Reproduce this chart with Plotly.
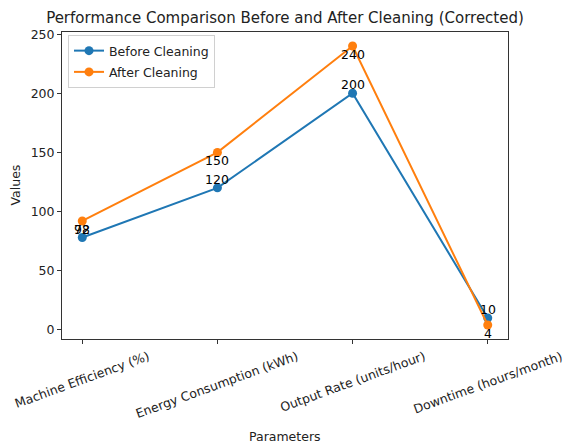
import plotly.graph_objects as go

categories = ["Machine Efficiency (%)", "Energy Consumption (kWh)", "Output Rate (units/hour)", "Downtime (hours/month)"]
before_cleaning = [78, 120, 200, 10]
after_cleaning = [92, 150, 240, 4]
y_ticks = [0, 50, 100, 150, 200, 250]

BLUE = "#1f77b4"
ORANGE = "#ff7f0e"
FONT = "DejaVu Sans"
TXT = "#222"

W, H = 564, 445
L, R, T, B = 62, 508, 32, 339
pw, ph = R - L, B - T

xs = list(range(len(categories)))

fig = go.Figure()
fig.add_trace(go.Scatter(x=xs, y=before_cleaning, mode="lines+markers", name="Before Cleaning",
                         legendgroup="a",
                         line=dict(color=BLUE, width=2), marker=dict(color=BLUE, size=9)))
fig.add_trace(go.Scatter(x=xs, y=after_cleaning, mode="lines+markers", name="After Cleaning",
                         legendgroup="b",
                         line=dict(color=ORANGE, width=2), marker=dict(color=ORANGE, size=9)))

annotations = []
for i, v in enumerate(before_cleaning):
    annotations.append(dict(x=i, y=v, xref="x", yref="y", text=str(v), showarrow=False,
                            xanchor="center", yanchor="bottom", borderpad=0,
                            font=dict(family=FONT, size=12.5, color="black")))
for i, v in enumerate(after_cleaning):
    annotations.append(dict(x=i, y=v, xref="x", yref="y", text=str(v), showarrow=False,
                            xanchor="center", yanchor="top", borderpad=0,
                            font=dict(family=FONT, size=12.5, color="black")))
for i, c in enumerate(categories):
    annotations.append(dict(x=i, y=-(347 - B) / ph, xref="x", yref="paper", text=c, showarrow=False,
                            xanchor="center", yanchor="top", textangle=-20, borderpad=0,
                            font=dict(family=FONT, size=12.5, color=TXT)))
annotations.append(dict(x=0.5, y=-(436 - B) / ph, xref="paper", yref="paper", text="Parameters",
                        showarrow=False, xanchor="center", yanchor="middle",
                        font=dict(family=FONT, size=12.5, color=TXT)))
annotations.append(dict(x=-(L - 15) / pw, y=0.5, xref="paper", yref="paper", text="Values",
                        showarrow=False, xanchor="center", yanchor="middle", textangle=-90,
                        font=dict(family=FONT, size=12.5, color=TXT)))

fig.update_layout(
    width=W, height=H,
    margin=dict(l=L, r=W - R, t=T, b=H - B, autoexpand=False),
    paper_bgcolor="white", plot_bgcolor="white",
    font=dict(family=FONT, size=12.5, color=TXT),
    title=dict(text="Performance Comparison Before and After Cleaning (Corrected)",
               x=(L + R) / 2 / W, xanchor="center", y=1 - 18 / H, yanchor="middle",
               font=dict(family=FONT, size=15, color=TXT)),
    xaxis=dict(range=[-0.15, 3.15], tickvals=xs, ticktext=["" for _ in categories],
               showticklabels=False, ticks="outside", ticklen=4, tickcolor="#333",
               showgrid=False, zeroline=False, showline=True, linecolor="#333", linewidth=1, mirror=True),
    yaxis=dict(range=[-7.8, 251.8], tickvals=y_ticks, ticks="outside", ticklen=4, tickcolor="#333",
               showgrid=False, zeroline=False, showline=True, linecolor="#333", linewidth=1, mirror=True,
               tickfont=dict(family=FONT, size=12.5, color=TXT)),
    legend=dict(x=(68 - L) / pw, y=1 - (35 - T) / ph, xanchor="left", yanchor="top",
                bgcolor="rgba(255,255,255,0.8)", bordercolor="#d0d0d0", borderwidth=1,
                font=dict(family=FONT, size=12.5, color=TXT), itemwidth=30,
                traceorder="grouped", tracegroupgap=2),
    annotations=annotations,
    showlegend=True,
)

fig.write_html("out.html", config={"displayModeBar": False},
               post_script="document.body.style.margin='0';document.body.style.overflow='hidden';")
